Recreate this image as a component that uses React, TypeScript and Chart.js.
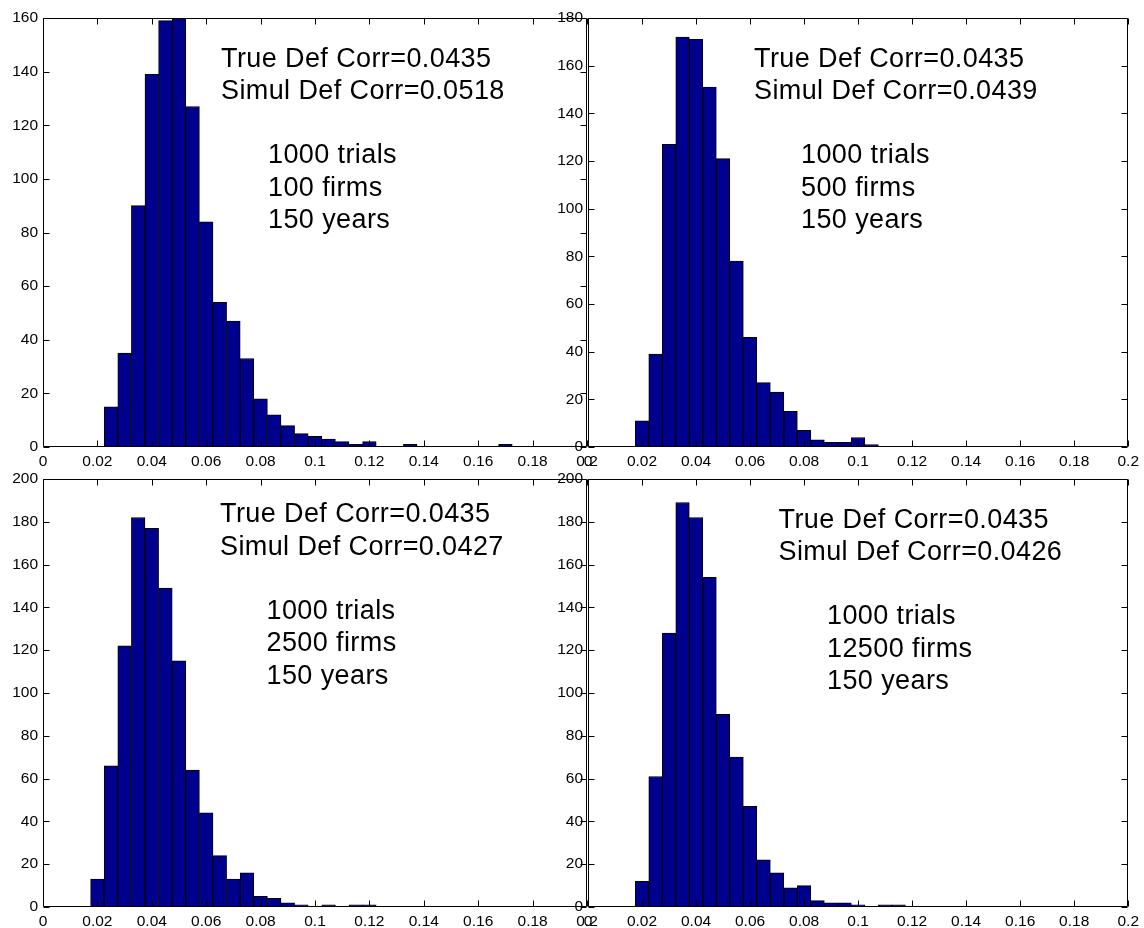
import React, { useEffect, useRef } from "react";
import { Chart, registerables } from "chart.js";

Chart.register(...registerables);

// Histogram bin centres (shared by all four panels)
const binCenters = [
  0.01, 0.015, 0.02, 0.025, 0.03, 0.035, 0.04, 0.045, 0.05, 0.055, 0.06,
  0.065, 0.07, 0.075, 0.08, 0.085, 0.09, 0.095, 0.1, 0.105, 0.11, 0.115,
  0.12, 0.125, 0.13, 0.135, 0.14, 0.145, 0.15, 0.155, 0.16, 0.165, 0.17,
];

// Counts per bin (1000 trials each)
const counts100Firms = [
  0, 0, 0, 15, 35, 90, 139, 159, 160, 127, 84, 54, 47, 33, 18, 12, 8, 5, 4, 3,
  2, 1, 2, 0, 0, 1, 0, 0, 0, 0, 0, 0, 1,
];
const counts500Firms = [
  0, 0, 11, 39, 127, 172, 171, 151, 121, 78, 46, 27, 23, 15, 7, 3, 2, 2, 4, 1,
  0, 0, 0, 0, 0, 0, 0, 0, 0, 0, 0, 0, 0,
];
const counts2500Firms = [
  0, 0, 13, 66, 122, 182, 177, 149, 115, 64, 44, 24, 13, 16, 5, 4, 2, 1, 0, 1,
  0, 1, 1, 0, 0, 0, 0, 0, 0, 0, 0, 0, 0,
];
const counts12500Firms = [
  0, 0, 12, 61, 128, 189, 182, 154, 90, 70, 47, 22, 16, 9, 10, 3, 2, 2, 1, 0,
  1, 1, 0, 0, 0, 0, 0, 0, 0, 0, 0, 0, 0,
];

// Axis limits
const yMaxes = [160, 180, 200, 200];
const xMin = 0;
const xMax = 0.2;
const xStep = 0.02;
const yStep = 20;

// Annotation texts
const trueCorr = "0.0435";
const simulCorrs = ["0.0518", "0.0439", "0.0427", "0.0426"];
const firmCounts = ["100", "500", "2500", "12500"];
const trialsText = "1000 trials";
const yearsText = "150 years";

const allCounts = [counts100Firms, counts500Firms, counts2500Firms, counts12500Firms];

// Layout (pixel boxes of each plot area and text offsets)
const W = 1144;
const H = 928;
const layouts = [
  { left: 43, right: 587, top: 18, bottom: 447, t1x: 178, t2x: 225, t1y: 48.5 },
  { left: 588, right: 1132, top: 18, bottom: 447, t1x: 166, t2x: 213, t1y: 48.5 },
  { left: 43, right: 587, top: 479, bottom: 907, t1x: 177, t2x: 223.5, t1y: 43 },
  { left: 588, right: 1132, top: 479, bottom: 907, t1x: 190.5, t2x: 239, t1y: 48.5 },
];

const FONT = "'Liberation Sans', Arial, Helvetica, sans-serif";
const Y_AXIS_W = 40;
const X_AXIS_H = 20;
const TICK_LEN = 6;

const matlabAxes = {
  id: "matlabAxes",
  afterDraw(chart: any, _args: any, opts: any) {
    const { ctx, chartArea: a } = chart;
    const xs = chart.scales.x;
    const ys = chart.scales.y;
    ctx.save();
    ctx.strokeStyle = "#000";
    ctx.lineWidth = 1;
    const L = Math.round(a.left) + 0.5;
    const R = Math.round(a.right) - 0.5;
    const T = Math.round(a.top) + 0.5;
    const B = Math.round(a.bottom) - 0.5;
    ctx.beginPath();
    ctx.rect(L, T, R - L, B - T);
    for (const t of xs.ticks) {
      const px = Math.round(xs.getPixelForValue(t.value)) + 0.5;
      ctx.moveTo(px, B);
      ctx.lineTo(px, B - TICK_LEN);
      ctx.moveTo(px, T);
      ctx.lineTo(px, T + TICK_LEN);
    }
    for (const t of ys.ticks) {
      const py = Math.round(ys.getPixelForValue(t.value)) + 0.5;
      ctx.moveTo(L, py);
      ctx.lineTo(L + TICK_LEN, py);
      ctx.moveTo(R, py);
      ctx.lineTo(R - TICK_LEN, py);
    }
    ctx.stroke();

    // annotation text
    ctx.fillStyle = "#000";
    ctx.font = `27px ${FONT}`;
    try {
      (ctx as any).letterSpacing = "0.4px";
    } catch (e) {}
    ctx.textAlign = "left";
    ctx.textBaseline = "alphabetic";
    const lh = 32.5;
    const g1 = opts.group1 || [];
    const g2 = opts.group2 || [];
    g1.forEach((s: string, i: number) => {
      ctx.fillText(s, a.left + opts.t1x, a.top + opts.t1y + i * lh);
    });
    g2.forEach((s: string, i: number) => {
      ctx.fillText(s, a.left + opts.t2x, a.top + opts.t1y + 96.5 + i * lh);
    });
    ctx.restore();
  },
};

function Panel({ idx }: { idx: number }) {
  const ref = useRef<HTMLCanvasElement>(null);
  useEffect(() => {
    if (!ref.current) return;
    const lay = layouts[idx];
    const counts = allCounts[idx];
    const chart = new Chart(ref.current, {
      type: "bar",
      data: {
        datasets: [
          {
            data: binCenters.map((c, i) => ({ x: c, y: counts[i] })),
            backgroundColor: "#00008F",
            borderColor: "#000000",
            borderWidth: 1,
            borderSkipped: false,
            barPercentage: 1,
            categoryPercentage: 1,
          },
        ],
      },
      options: {
        responsive: false,
        animation: false,
        devicePixelRatio: 1,
        events: [],
        layout: {
          padding: {
            left: lay.left - Y_AXIS_W,
            right: W - lay.right,
            top: lay.top,
            bottom: H - lay.bottom - X_AXIS_H,
          },
        },
        plugins: {
          legend: { display: false },
          tooltip: { enabled: false },
          matlabAxes: {
            t1x: lay.t1x,
            t2x: lay.t2x,
            t1y: lay.t1y,
            group1: [`True Def Corr=${trueCorr}`, `Simul Def Corr=${simulCorrs[idx]}`],
            group2: [trialsText, `${firmCounts[idx]} firms`, yearsText],
          },
        } as any,
        scales: {
          x: {
            type: "linear",
            min: xMin,
            max: xMax,
            offset: false,
            grid: { display: false, drawTicks: false, offset: false },
            border: { display: false },
            ticks: {
              stepSize: xStep,
              autoSkip: false,
              maxRotation: 0,
              padding: 5,
              color: "#000",
              font: { family: FONT, size: 15.5 },
              callback: (v: any) => String(Number(Number(v).toFixed(2))),
            },
            afterFit: (s: any) => {
              s.height = X_AXIS_H;
            },
          },
          y: {
            type: "linear",
            min: 0,
            max: yMaxes[idx],
            grid: { display: false, drawTicks: false },
            border: { display: false },
            ticks: {
              stepSize: yStep,
              autoSkip: false,
              padding: 5,
              color: "#000",
              font: { family: FONT, size: 15.5 },
            },
            afterFit: (s: any) => {
              s.width = Y_AXIS_W;
            },
          },
        },
      },
      plugins: [matlabAxes],
    });
    return () => chart.destroy();
  }, [idx]);
  return (
    <canvas
      ref={ref}
      width={W}
      height={H}
      style={{ position: "absolute", left: 0, top: 0, width: W, height: H }}
    />
  );
}

export default function App() {
  return (
    <div
      style={{
        position: "fixed",
        left: 0,
        top: 0,
        width: W,
        height: H,
        background: "#fff",
        overflow: "hidden",
      }}
    >
      {[0, 1, 2, 3].map((i) => (
        <Panel key={i} idx={i} />
      ))}
    </div>
  );
}
